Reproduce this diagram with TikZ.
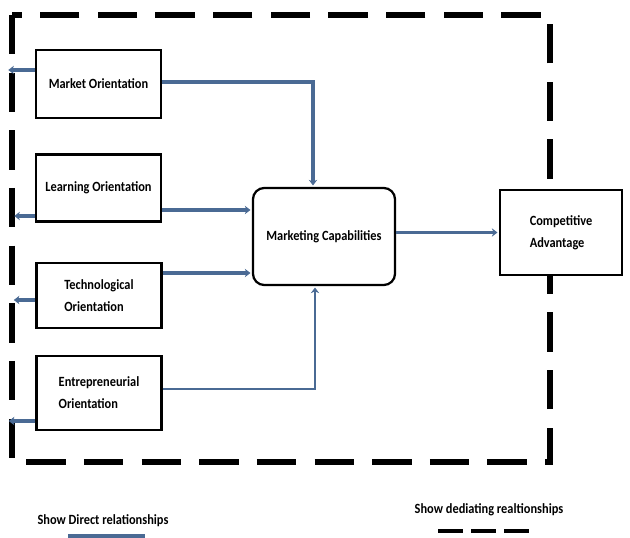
\documentclass[tikz,border=0pt]{standalone}
\usepackage{fontspec}
\setmainfont{Carlito}[FakeStretch=0.88]
\usetikzlibrary{arrows.meta,calc}

\definecolor{relblue}{RGB}{74,106,148}

\tikzset{
  factor/.style={draw, line width=1.6pt, fill=white, minimum width=3.125cm,
    font=\bfseries\fontsize{10}{15.5}\selectfont, align=left},
  dirarrow/.style={draw=relblue, line width=2.8pt, shorten >=1pt,
    -{Stealth[length=4pt,width=6pt]}},
  medline/.style={line width=3.7pt, dash pattern=on 28pt off 13pt},
  keytext/.style={font=\bfseries\fontsize{10}{12}\selectfont},
}

\begin{document}
\begin{tikzpicture}[x=0.025cm,y=-0.025cm]
    \useasboundingbox (0,0) rectangle (630,538);

    % Step 1: Frame of the mediating relationships
    \draw[medline] (12,15) rectangle (550,462);

    % Orientations on the left
    \node[factor, minimum height=1.7cm] (mo) at (98.5,84) {Market Orientation};
    \node[factor, minimum height=1.675cm] (lo) at (98.5,188) {Learning Orientation};
    \node[factor, minimum height=1.625cm] (to) at (99,295.5) {Technological\\Orientation};
    \node[factor, minimum height=1.85cm] (eo) at (99,393) {Entrepreneurial\\Orientation};

    % Step 2: Marketing capabilities and the outcome
    \node[factor, rounded corners=8pt, minimum width=3.55cm, minimum height=2.425cm] (mc) at (324,236.5) {Marketing Capabilities};
    \node[factor, minimum width=3.05cm, minimum height=2.125cm] (ca) at (561,232.5) {Competitive\\Advantage};

    % Direct relationships into the capabilities
    \coordinate (lotip) at ($(lo.east)+(0,22)$);
    \coordinate (totip) at ($(to.east)+(0,-22.5)$);
    \draw[dirarrow] ($(mo.east)+(0,-2)$) -| ($(mc.north)+(-11,0)$);
    \draw[dirarrow] (lotip) -- (lotip -| mc.west);
    \draw[dirarrow] (totip) -- (totip -| mc.west);
    \draw[dirarrow, line width=2pt] ($(eo.east)+(0,-4)$) -| ($(mc.south)+(-9,0)$);
    \draw[dirarrow] (mc.east |- ca.west) -- (ca.west);

    % Short arrows leaving each orientation to the left
    \foreach \fac/\dy/\len in {mo/-14/28, lo/28/22, to/4.5/23, eo/28/28} {
        \draw[dirarrow, line width=2.2pt] ($(\fac.west)+(0,\dy)$) -- ($(\fac.west)+(-\len,\dy)$);
    }

    % Step 3: Legend
    \node[keytext] (dirkey) at (103,521) {Show Direct relationships};
    \draw[relblue, line width=3pt] (68,536) -- (145,536);
    \node[keytext] (medkey) at (489,510) {Show dediating realtionships};
    \draw[line width=3pt, dash pattern=on 17.5pt off 6pt] (438,531) -- (532,531);

\end{tikzpicture}
\end{document}
